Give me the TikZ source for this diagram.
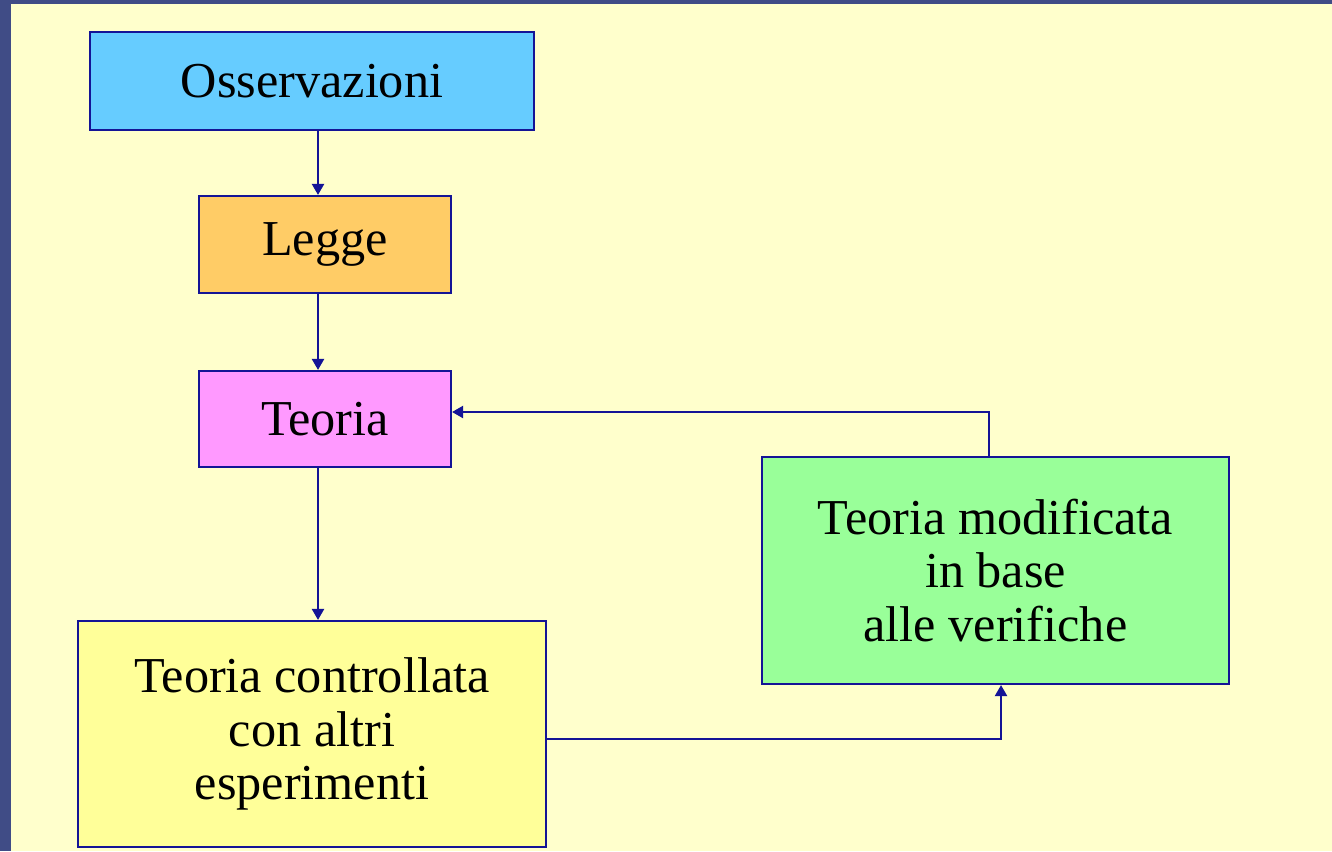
\documentclass[tikz,border=0pt]{standalone}
\usepackage{fontspec}
\setmainfont{Liberation Serif}
\usepackage{tikz}
\usetikzlibrary{arrows.meta,positioning,calc}
\definecolor{slideblue}{RGB}{64,76,134}
\definecolor{slidebg}{RGB}{255,255,204}
\definecolor{linkblue}{RGB}{20,20,150}
\definecolor{obsfill}{RGB}{102,204,255}
\definecolor{lawfill}{RGB}{255,204,102}
\definecolor{theofill}{RGB}{255,153,255}
\definecolor{testfill}{RGB}{255,255,153}
\definecolor{modfill}{RGB}{153,255,153}

\begin{document}
\begin{tikzpicture}[
  box/.style={rectangle, draw=linkblue, line width=0.6pt, inner sep=0pt, align=center,
    font=\fontsize{14.3}{15.2}\selectfont},
  link/.style={linkblue, line width=0.6pt, -{Triangle[length=1.1mm, width=1.2mm]}}
]
\useasboundingbox (0,0) rectangle (13.32,8.51);
\fill[slideblue] (0,0) rectangle (13.32,8.51);
\fill[slidebg] (0.11,0) rectangle (13.32,8.47);

\node[box, fill=obsfill, minimum width=4.44cm, minimum height=0.98cm] (oss) at (3.12,7.70) {Osservazioni};
\node[box, fill=lawfill, minimum width=2.52cm, minimum height=0.97cm] (legge) at (3.25,6.065) {Legge};
\node[box, fill=theofill, minimum width=2.52cm, minimum height=0.96cm] (teo) at (3.25,4.32) {Teoria};
\node[box, fill=testfill, minimum width=4.68cm, minimum height=2.26cm] (contr) at (3.12,1.17)
  {Teoria controllata\\con altri\\esperimenti};
\node[box, fill=modfill, minimum width=4.67cm, minimum height=2.27cm] (modif) at (9.955,2.805)
  {Teoria modificata\\in base\\alle verifiche};

% vertical axis of the left column
\coordinate (axis) at (3.18,0);

\draw[link] (oss.south -| axis) -- (legge.north -| axis);
\draw[link] (legge.south -| axis) -- (teo.north -| axis);
\draw[link] (teo.south -| axis) -- (contr.north -| axis);
\draw[link] ([yshift=-0.05cm]contr.east) -| ([xshift=0.055cm]modif.south);
\draw[link] ([xshift=-0.065cm]modif.north) |- ([yshift=0.07cm]teo.east);
\end{tikzpicture}
\end{document}
